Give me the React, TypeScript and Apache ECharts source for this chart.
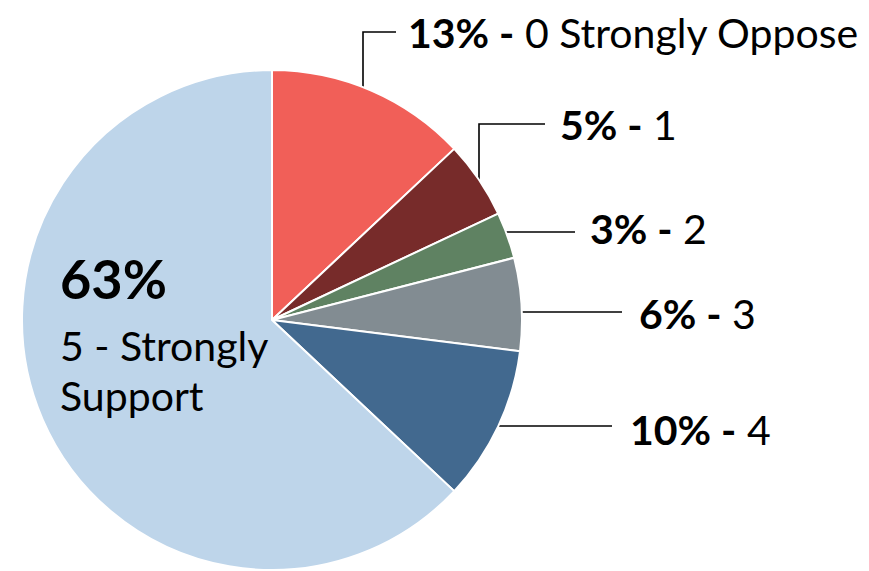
import { useEffect, useRef } from "react";
import * as echarts from "echarts";

const categories = ["0 Strongly Oppose", "1", "2", "3", "4", "5 - Strongly Support"];
const values = [13, 5, 3, 6, 10, 63];
const colors = ["#F15F58", "#772B2A", "#5F8262", "#828C92", "#42698F", "#BED5EA"];

// label anchors (left x, middle y) and leader line paths
const labelSpots: { x: number; y: number; line: number[][] | null }[] = [
  { x: 408, y: 32, line: [[363, 89], [363, 32], [396, 32]] },
  { x: 560, y: 124, line: [[479, 182], [479, 124], [545, 124]] },
  { x: 590, y: 228, line: [[501, 232], [538, 232], [575, 232]] },
  { x: 639, y: 313, line: [[512, 312], [567, 312], [622, 312]] },
  { x: 630, y: 429, line: [[480, 426], [546, 426], [612, 426]] },
  { x: 60, y: 328, line: null },
];

const FONT = "Lato";

export default function App() {
  const ref = useRef<HTMLDivElement>(null);
  useEffect(() => {
    if (!ref.current) return;
    const chart = echarts.init(ref.current, undefined, { renderer: "svg" });
    chart.setOption({
      animation: false,
      backgroundColor: "#ffffff",
      series: [
        {
          type: "pie",
          center: [272, 320],
          radius: [0, 250],
          startAngle: 90,
          clockwise: true,
          avoidLabelOverlap: false,
          itemStyle: { borderColor: "#ffffff", borderWidth: 2 },
          emphasis: { disabled: true },
          label: {
            show: true,
            position: "outside",
            fontFamily: FONT,
            color: "#000000",
            formatter: (p: any) => {
              const pct = Math.round(p.percent);
              if (p.dataIndex === 5) {
                const name: string = p.name;
                const cut = name.lastIndexOf(" ");
                return `{big|${pct}%}\n{r|${name.slice(0, cut)}}\n{r|${name.slice(cut + 1)}}`;
              }
              return `{b|${pct}% -}{r| ${p.name}}`;
            },
            rich: {
              b: { fontFamily: FONT, fontWeight: "bold", fontSize: 41, color: "#000000" },
              r: { fontFamily: FONT, fontSize: 41, color: "#000000", lineHeight: 50 },
              big: { fontFamily: FONT, fontWeight: "bold", fontSize: 54, color: "#000000", lineHeight: 84 },
            },
          },
          labelLine: { show: true, lineStyle: { color: "#000000", width: 1.6 } },
          labelLayout: (params: any) => {
            const s = labelSpots[params.dataIndex];
            const out: any = { x: s.x, y: s.y, align: "left", verticalAlign: "middle", hideOverlap: false };
            if (s.line) out.labelLinePoints = s.line;
            return out;
          },
          data: categories.map((c, i) => ({
            name: c,
            value: values[i],
            itemStyle: { color: colors[i] },
            labelLine: i === 5 ? { show: false } : undefined,
          })),
        },
      ],
    });
    return () => chart.dispose();
  }, []);
  return (
    <div
      ref={ref}
      style={{ position: "fixed", left: 0, top: 0, width: 869, height: 571 }}
    />
  );
}
